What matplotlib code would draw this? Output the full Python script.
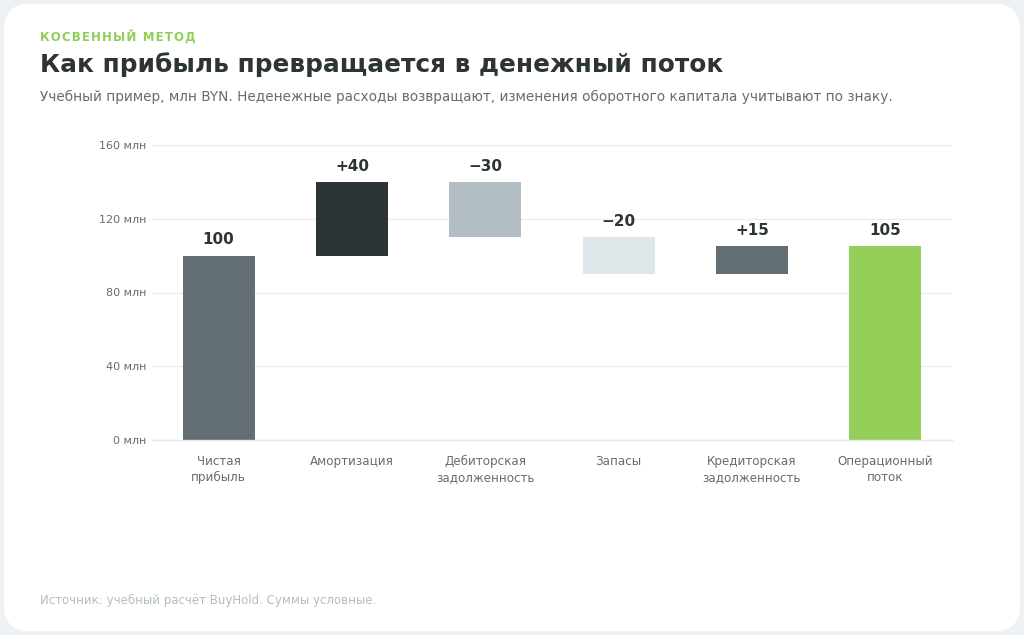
import matplotlib
matplotlib.use("Agg")
import matplotlib.pyplot as plt
from matplotlib.patches import FancyBboxPatch

# waterfall steps, mln BYN
categories = ["Чистая\nприбыль", "Амортизация", "Дебиторская\nзадолженность",
              "Запасы", "Кредиторская\nзадолженность", "Операционный\nпоток"]
changes = [100, 40, -30, -20, 15, 105]
is_total = [True, False, False, False, False, True]
value_labels = ["100", "+40", "\u221230", "\u221220", "+15", "105"]
bar_colors = ["#636e72", "#2d3436", "#b2bec3", "#dfe6e9", "#636e72", "#94cf5a"]
y_ticks = [0, 40, 80, 120, 160]
y_tick_labels = ["0 млн", "40 млн", "80 млн", "120 млн", "160 млн"]

plt.rcParams['font.family'] = ['DejaVu Sans']

fig = plt.figure(figsize=(10.24, 6.35), dpi=100)
fig.patch.set_facecolor("#eef1f3")
card = FancyBboxPatch((0.004, 0.006), 0.992, 0.988, boxstyle="round,pad=0,rounding_size=0.025",
                      transform=fig.transFigure, facecolor="white", edgecolor="none", zorder=-10,
                      mutation_aspect=1024 / 635)
fig.patches.append(card)

ax = fig.add_axes([152 / 1024, 1 - 440 / 635, 800 / 1024, 295 / 635])
ax.set_facecolor("none")

# compute floating bar bottoms from running total
bottoms, heights = [], []
running = 0
for val, tot in zip(changes, is_total):
    if tot:
        bottoms.append(0)
        heights.append(val)
        running = val
    elif val >= 0:
        bottoms.append(running)
        heights.append(val)
        running += val
    else:
        running += val
        bottoms.append(running)
        heights.append(-val)

x = range(len(categories))
ax.bar(x, heights, bottom=bottoms, width=0.54, color=bar_colors, zorder=3)

for i, (b, h, lab) in enumerate(zip(bottoms, heights, value_labels)):
    ax.annotate(lab, (i, b + h), xytext=(0, 6), textcoords="offset points",
                ha="center", va="bottom", fontsize=11, fontweight="bold", color="#2d3436")

ax.set_xlim(-0.5, len(categories) - 0.5)
ax.set_ylim(0, 160)
ax.set_yticks(y_ticks)
ax.set_yticklabels(y_tick_labels)
ax.set_xticks(list(x))
ax.set_xticklabels(categories, linespacing=1.3)
ax.tick_params(axis="y", length=0, pad=4, labelsize=8, labelcolor="#636e72")
ax.tick_params(axis="x", length=0, pad=11, labelsize=8.6, labelcolor="#636e72")
ax.grid(axis="y", color="#e9edef", linewidth=0.9, zorder=0)
for s in ["top", "right", "left"]:
    ax.spines[s].set_visible(False)
ax.spines["bottom"].set_color("#dfe6e9")
ax.spines["bottom"].set_linewidth(1.0)
ax.spines["bottom"].set_zorder(4)

# header texts
fig.text(40 / 1024, 1 - 37 / 635, "\u200a".join("КОСВЕННЫЙ МЕТОД"), fontsize=8.5, fontweight="bold",
         color="#8fcf57", va="center", ha="left")
fig.text(40 / 1024, 1 - 65 / 635, "Как прибыль превращается в денежный поток", fontsize=17.8,
         fontweight="bold", color="#2d3436", va="center", ha="left")
fig.text(40 / 1024, 1 - 97 / 635,
         "Учебный пример, млн BYN. Неденежные расходы возвращают, изменения оборотного капитала учитывают по знаку.",
         fontsize=9.85, color="#636e72", va="center", ha="left")
fig.text(40 / 1024, 1 - 600 / 635, "Источник: учебный расчёт BuyHold. Суммы условные.",
         fontsize=8.5, color="#b2bec3", va="center", ha="left")

fig.savefig("out.png", dpi=100, facecolor=fig.get_facecolor())
